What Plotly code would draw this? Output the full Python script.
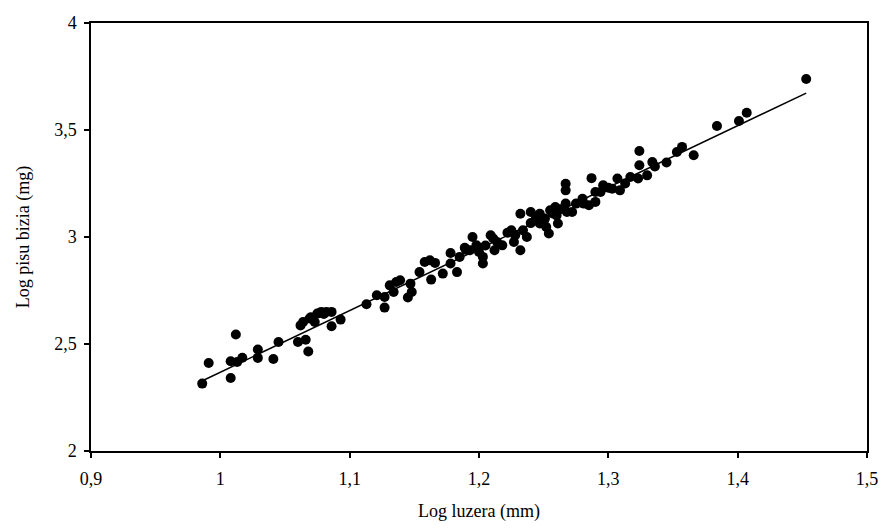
import plotly.graph_objects as go

log_length = [
    0.986, 0.991, 1.012, 1.008, 1.008, 1.013, 1.017, 1.029, 1.029, 1.041, 1.045,
    1.060, 1.062, 1.064, 1.066, 1.069, 1.068, 1.075, 1.078, 1.082, 1.086, 1.086,
    1.093, 1.073, 1.113, 1.121, 1.127, 1.127, 1.131, 1.134, 1.136, 1.139, 1.147,
    1.148, 1.145, 1.154, 1.158, 1.162, 1.166, 1.163, 1.172, 1.178, 1.178, 1.183,
    1.185, 1.189, 1.195, 1.193, 1.198, 1.200, 1.203, 1.203, 1.209, 1.212, 1.214,
    1.211, 1.218, 1.225, 1.228, 1.227, 1.232, 1.232, 1.234, 1.237, 1.240, 1.240,
    1.247, 1.247, 1.251, 1.252, 1.254, 1.255, 1.259, 1.260, 1.261, 1.267, 1.267,
    1.267, 1.268, 1.272, 1.275, 1.280, 1.281, 1.285, 1.287, 1.290, 1.290, 1.294,
    1.296, 1.303, 1.307, 1.309, 1.317, 1.323, 1.324, 1.324, 1.330, 1.334, 1.336,
    1.345, 1.353, 1.357, 1.366, 1.384, 1.401, 1.407, 1.453,
    1.070, 1.080, 1.190, 1.205, 1.222, 1.244, 1.257, 1.263, 1.300, 1.313
]
log_weight = [
    2.315, 2.411, 2.544, 2.419, 2.341, 2.416, 2.436, 2.474, 2.435, 2.430, 2.509,
    2.509, 2.587, 2.603, 2.520, 2.619, 2.465, 2.642, 2.650, 2.650, 2.650, 2.583,
    2.614, 2.603, 2.686, 2.728, 2.670, 2.720, 2.774, 2.743, 2.790, 2.798, 2.782,
    2.743, 2.717, 2.836, 2.883, 2.891, 2.879, 2.801, 2.829, 2.925, 2.876, 2.836,
    2.907, 2.950, 3.000, 2.938, 2.961, 2.930, 2.876, 2.907, 3.008, 2.938, 2.977,
    2.993, 2.961, 3.031, 3.008, 2.977, 2.938, 3.109, 3.031, 3.000, 3.117, 3.065,
    3.109, 3.063, 3.086, 3.047, 3.016, 3.125, 3.140, 3.101, 3.063, 3.249, 3.218,
    3.156, 3.117, 3.117, 3.156, 3.179, 3.156, 3.148, 3.275, 3.164, 3.210, 3.210,
    3.242, 3.226, 3.273, 3.218, 3.280, 3.273, 3.335, 3.402, 3.288, 3.350, 3.330,
    3.348, 3.397, 3.421, 3.382, 3.519, 3.542, 3.581, 3.738,
    2.625, 2.640, 2.940, 2.960, 3.020, 3.090, 3.110, 3.130, 3.230, 3.250
]

fit_slope = 2.88
fit_intercept = -0.512
fit_x = [0.987, 1.453]
fit_y = [fit_slope * v + fit_intercept for v in fit_x]

x_ticks = [0.9, 1.0, 1.1, 1.2, 1.3, 1.4, 1.5]
x_tick_text = ["0,9", "1", "1,1", "1,2", "1,3", "1,4", "1,5"]
y_ticks = [2, 2.5, 3, 3.5, 4]
y_tick_text = ["2", "2,5", "3", "3,5", "4"]

fig = go.Figure()
fig.add_trace(go.Scatter(
    x=log_length, y=log_weight, mode="markers",
    marker=dict(color="black", size=10, line=dict(width=0)),
    showlegend=False, hoverinfo="x+y"))
fig.add_trace(go.Scatter(
    x=fit_x, y=fit_y, mode="lines",
    line=dict(color="black", width=1.5),
    showlegend=False, hoverinfo="skip"))

serif = "Liberation Serif"
fig.update_layout(
    width=880, height=529,
    margin=dict(l=91, r=13, t=23, b=78),
    paper_bgcolor="white", plot_bgcolor="white",
    separators=",.",
    xaxis=dict(
        range=[0.9, 1.5], tickvals=x_ticks, ticktext=x_tick_text,
        showgrid=False, zeroline=False, automargin=False,
        showline=True, linecolor="black", linewidth=1.5, mirror=True,
        ticks="outside", ticklen=5, tickcolor="black", tickwidth=1.5,
        ticklabelstandoff=6,
        tickfont=dict(family="Liberation Sans Narrow", size=18, color="black"),
        title=dict(text="Log luzera (mm)", font=dict(family=serif, size=18, color="black"), standoff=16),
    ),
    yaxis=dict(
        range=[2, 4], tickvals=y_ticks, ticktext=y_tick_text,
        showgrid=False, zeroline=False, automargin=False,
        showline=True, linecolor="black", linewidth=1.5, mirror=True,
        ticks="outside", ticklen=5, tickcolor="black", tickwidth=1.5,
        ticklabelstandoff=4,
        tickfont=dict(family=serif, size=18, color="black"),
        title=dict(text="Log pisu bizia (mg)", font=dict(family=serif, size=18, color="black"), standoff=20),
    ),
)

fig.write_html("out.html",
               config={"displayModeBar": False},
               post_script="document.body.style.margin='0px';document.body.style.overflow='hidden';")
